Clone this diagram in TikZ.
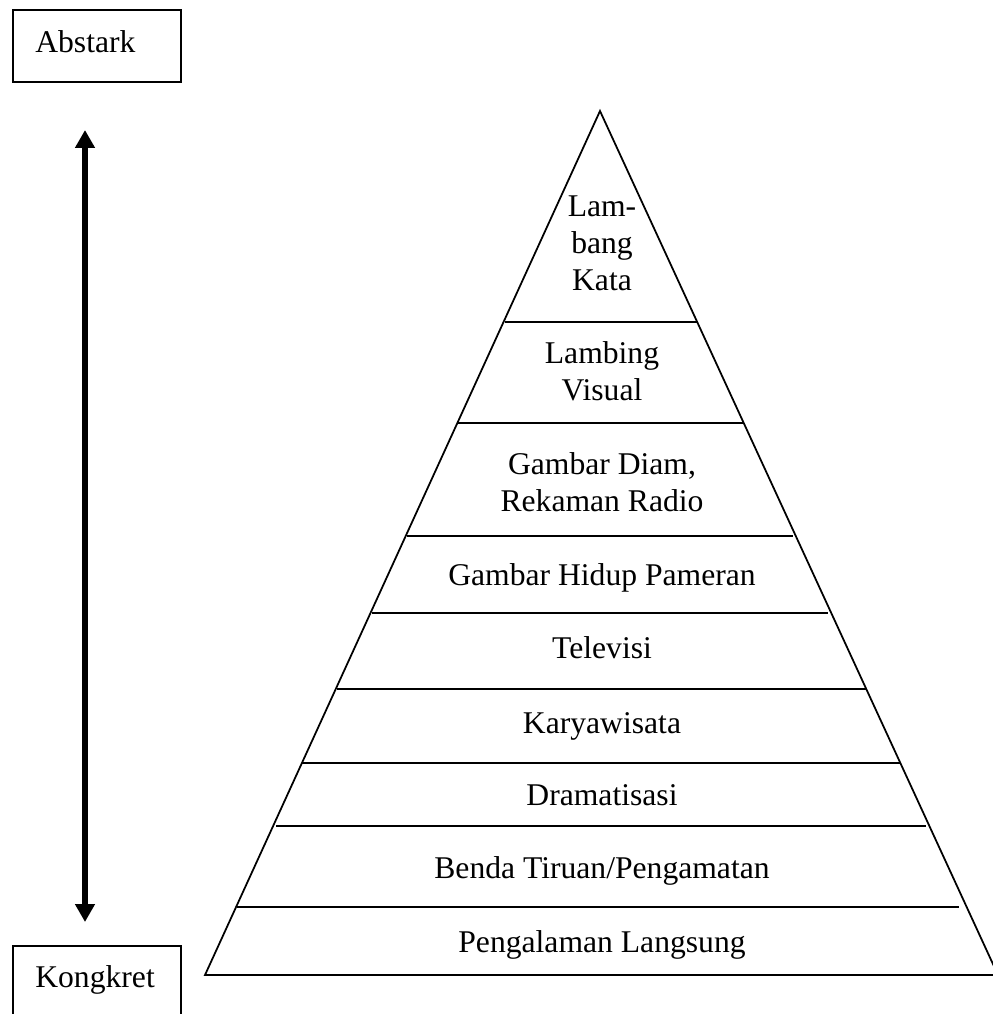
\documentclass[tikz,border=0pt]{standalone}
\usepackage{fontspec}
\setmainfont{Liberation Serif}
\usetikzlibrary{arrows.meta}
\tikzset{
  kotak/.style={draw, line width=1pt},
  garis/.style={line width=1pt},
  tingkat/.style={anchor=base, align=center, inner sep=0pt,
    font=\fontsize{18}{20.8}\selectfont},
  label/.style={anchor=base west, inner sep=0pt,
    font=\fontsize{18}{20.8}\selectfont}
}
\begin{document}
\begin{tikzpicture}[x=0.02cm,y=-0.02cm]
			\useasboundingbox (0,0) rectangle (992,1014);
			% kotak keterangan
			\draw [kotak] (13,10) rectangle (181,82);
			\node [label] (abstrak) at (35,52) {Abstark};
			\draw [kotak] (13,946) rectangle (181,1030);
			\node [label] (kongkret) at (35,987) {Kongkret};
			% panah
			\coordinate (atas) at (85,130);
			\coordinate (bawah) at (85,922);
			\draw [line width=3.2pt, {Triangle[width=0.38cm,length=0.36cm]}-{Triangle[width=0.38cm,length=0.36cm]}] (atas) -- (bawah);
			% piramida
			\draw [garis] (600,111) -- (205,975) -- (998,975) -- cycle;
			\foreach \y/\a/\b in {322/505/697, 423/458/744, 536/407/793, 613/372/828, 689/337/866, 763/302/901, 826/276/926, 907/237/959}
				\draw [garis] (\a,\y) -- (\b,\y);
			% base = baris terakhir
			\node [tingkat] (kata) at (602,290) {Lam-\\bang\\Kata};
			\node [tingkat] (visual) at (602,400) {Lambing\\Visual};
			\node [tingkat] (diam) at (602,511) {Gambar Diam,\\Rekaman Radio};
			\node [tingkat] (hidup) at (602,585) {Gambar Hidup Pameran};
			\node [tingkat] (tv) at (602,658) {Televisi};
			\node [tingkat] (wisata) at (602,733) {Karyawisata};
			\node [tingkat] (drama) at (602,805) {Dramatisasi};
			\node [tingkat] (tiruan) at (602,878) {Benda Tiruan/Pengamatan};
			\node [tingkat] (langsung) at (602,952) {Pengalaman Langsung};
		\end{tikzpicture}
\end{document}
